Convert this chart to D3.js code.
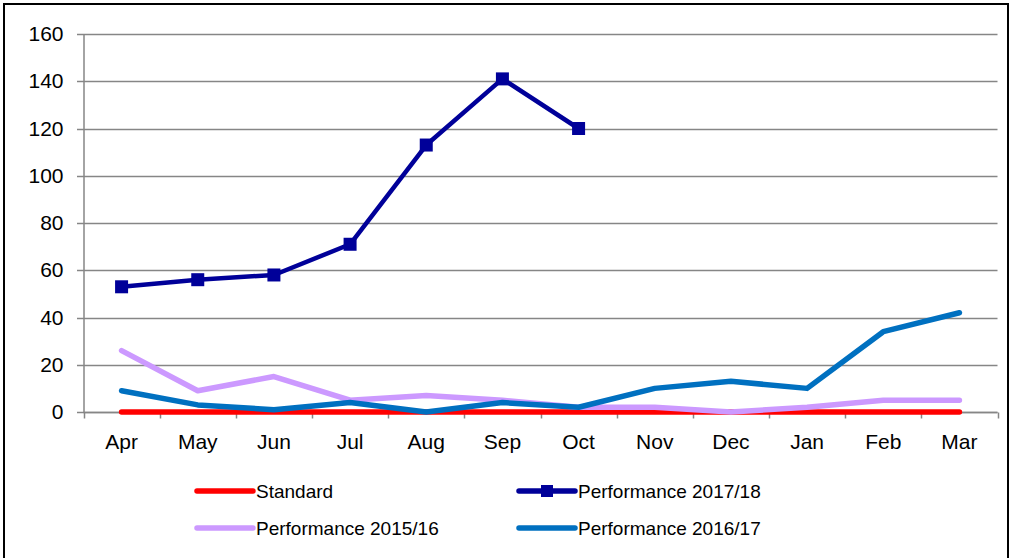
<!DOCTYPE html>
<html>
<head>
<meta charset="utf-8">
<script src="https://cdn.jsdelivr.net/npm/d3@7"></script>
<style>
  body { margin: 0; background: #fff; }
  text { font-family: "Liberation Sans", Arial, sans-serif; }
</style>
</head>
<body>
<svg id="chart"></svg>
<script>
// Months on the x axis
const months = ["Apr", "May", "Jun", "Jul", "Aug", "Sep", "Oct", "Nov", "Dec", "Jan", "Feb", "Mar"];
// Series values
const standard = [0, 0, 0, 0, 0, 0, 0, 0, 0, 0, 0, 0];
const perf1718 = [53, 56, 58, 71, 113, 141, 120];
const perf1516 = [26, 9, 15, 5, 7, 5, 2, 2, 0, 2, 5, 5];
const perf1617 = [9, 3, 1, 4, 0, 4, 2, 10, 13, 10, 34, 42];
const yTicks = [0, 20, 40, 60, 80, 100, 120, 140, 160];

const width = 1011;
const height = 558;

const svg = d3.select("#chart")
  .attr("width", width)
  .attr("height", height);

// outer chart border
svg.append("rect")
  .attr("x", 4).attr("y", 4)
  .attr("width", 1004).attr("height", 560)
  .attr("fill", "white")
  .attr("stroke", "#000")
  .attr("stroke-width", 2);

const x = d3.scaleBand().domain(months).range([83.5, 997.5]);
const y = d3.scaleLinear().domain([0, 160]).range([412, 34]);

// grid lines
svg.append("g")
  .selectAll("line")
  .data(yTicks)
  .join("line")
  .attr("x1", 77).attr("x2", 997.5)
  .attr("y1", d => Math.round(y(d)) + 0.5)
  .attr("y2", d => Math.round(y(d)) + 0.5)
  .attr("stroke", "#868686")
  .attr("stroke-width", 1.5);

// y axis
const yAxis = svg.append("g")
  .attr("transform", "translate(83.5,0)")
  .call(d3.axisLeft(y).tickValues(yTicks).tickSize(0).tickPadding(20));
yAxis.select(".domain").attr("stroke", "#868686").attr("stroke-width", 1.5);
yAxis.attr("font-size", null).attr("font-family", null);
yAxis.selectAll("text").style("font-size", "21px").attr("fill", "#000");

// x axis with ticks between categories
const xAxis = svg.append("g")
  .attr("transform", "translate(0,412.5)");
xAxis.append("line")
  .attr("x1", 83.5).attr("x2", 997.5)
  .attr("stroke", "#868686").attr("stroke-width", 1.5);
xAxis.selectAll("line.tick")
  .data(months.concat(["end"]))
  .join("line")
  .attr("class", "tick")
  .attr("x1", (d, i) => Math.round(i < months.length ? x(d) : x.range()[1]) + 0.5)
  .attr("x2", (d, i) => Math.round(i < months.length ? x(d) : x.range()[1]) + 0.5)
  .attr("y1", 0).attr("y2", 6)
  .attr("stroke", "#868686").attr("stroke-width", 1.5);
xAxis.selectAll("text")
  .data(months)
  .join("text")
  .attr("x", d => x(d) + x.bandwidth() / 2)
  .attr("y", 36)
  .attr("text-anchor", "middle")
  .style("font-size", "21px")
  .text(d => d);

const cx = i => x(months[i]) + x.bandwidth() / 2;
const line = d3.line().x((d, i) => cx(i)).y(d => y(d));

const series = [
  {name: "Standard", values: standard, color: "#FF0000", w: 5.5},
  {name: "Performance 2015/16", values: perf1516, color: "#CC99FF", w: 5.5},
  {name: "Performance 2016/17", values: perf1617, color: "#0070C0", w: 5.5},
  {name: "Performance 2017/18", values: perf1718, color: "#000099", w: 4.5, marker: true}
];

series.forEach(s => {
  svg.append("path")
    .datum(s.values)
    .attr("d", line)
    .attr("fill", "none")
    .attr("stroke", s.color)
    .attr("stroke-width", s.w)
    .attr("stroke-linejoin", "round")
    .attr("stroke-linecap", "round");
  if (s.marker) {
    svg.append("g")
      .selectAll("rect")
      .data(s.values)
      .join("rect")
      .attr("x", (d, i) => cx(i) - 6.5)
      .attr("y", d => y(d) - 6.5)
      .attr("width", 13).attr("height", 13)
      .attr("fill", s.color);
  }
});

// legend
const legendItems = [
  {s: series[0], lx: 197, ly: 491},
  {s: series[3], lx: 519, ly: 491},
  {s: series[1], lx: 197, ly: 528},
  {s: series[2], lx: 519, ly: 528}
];
const legend = svg.append("g");
legendItems.forEach(it => {
  legend.append("line")
    .attr("x1", it.lx).attr("x2", it.lx + 56)
    .attr("y1", it.ly).attr("y2", it.ly)
    .attr("stroke", it.s.color)
    .attr("stroke-width", 5.5)
    .attr("stroke-linecap", "round");
  if (it.s.marker) {
    legend.append("rect")
      .attr("x", it.lx + 28 - 6).attr("y", it.ly - 6)
      .attr("width", 12).attr("height", 12)
      .attr("fill", it.s.color);
  }
  legend.append("text")
    .attr("x", it.lx + 59)
    .attr("y", it.ly + 7)
    .style("font-size", "19px")
    .text(it.s.name);
});
</script>
</body>
</html>
